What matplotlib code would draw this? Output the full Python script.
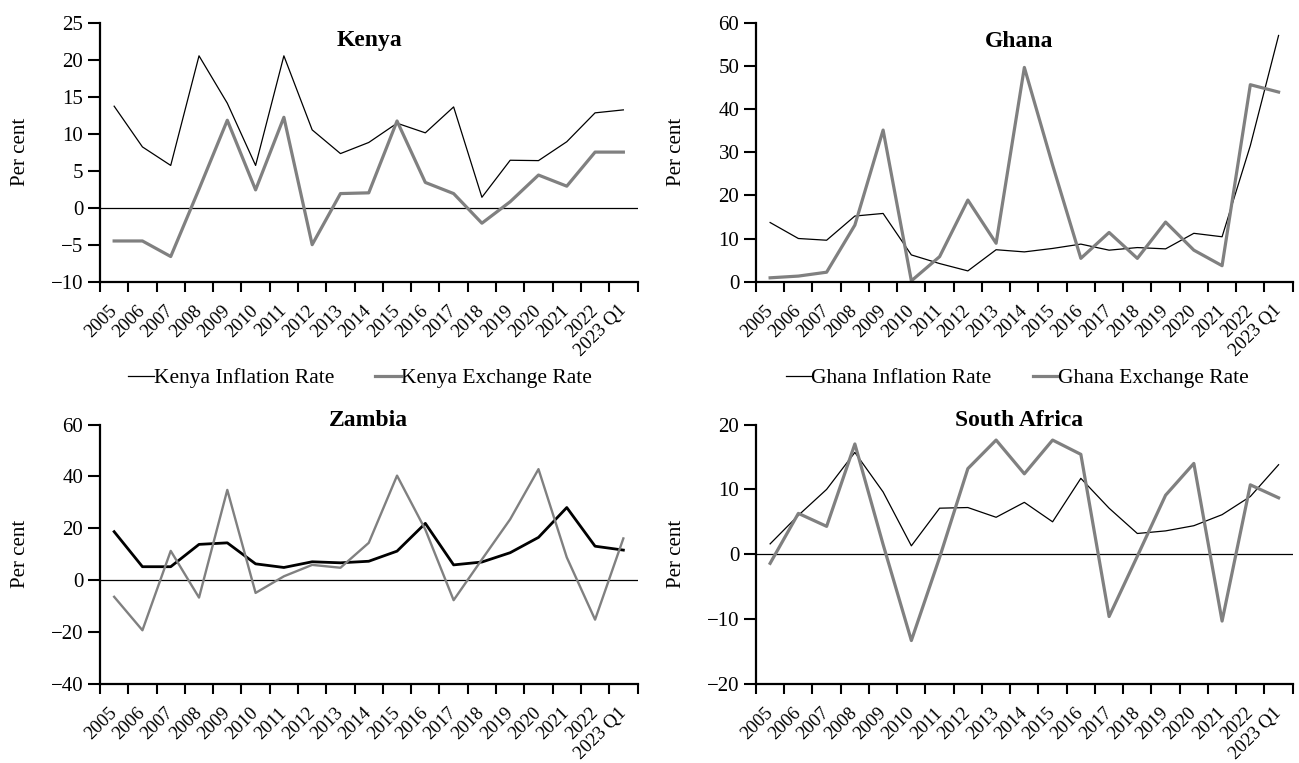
import matplotlib
matplotlib.use('Agg')
import matplotlib.pyplot as plt
import numpy as np

plt.rcParams['font.family'] = ['Liberation Serif', 'DejaVu Serif']

years = ['2005', '2006', '2007', '2008', '2009', '2010', '2011', '2012', '2013',
         '2014', '2015', '2016', '2017', '2018', '2019', '2020', '2021', '2022',
         '2023 Q1']

kenya_infl = [13.7, 8.2, 5.7, 20.5, 14.1, 5.7, 20.5, 10.5, 7.3, 8.8, 11.4, 10.1,
              13.6, 1.4, 6.4, 6.35, 8.9, 12.8, 13.2]
kenya_fx = [-4.5, -4.5, -6.6, 2.5, 11.8, 2.4, 12.2, -5.0, 1.9, 2.0, 11.7, 3.4,
            1.9, -2.1, 0.8, 4.4, 2.9, 7.5, 7.5]

ghana_infl = [13.7, 10.0, 9.6, 15.2, 15.8, 6.2, 4.2, 2.5, 7.4, 6.9, 7.7, 8.7,
              7.3, 7.9, 7.6, 11.2, 10.4, 31.5, 57.0]
ghana_fx = [0.9, 1.3, 2.2, 13.1, 35.1, 0.2, 5.8, 18.9, 8.9, 49.6, 27.0, 5.4,
            11.4, 5.4, 13.8, 7.3, 3.7, 45.6, 43.9]

zambia_infl = [18.7, 5.2, 5.2, 13.8, 14.4, 6.3, 4.9, 7.1, 6.7, 7.3, 11.2, 21.9,
               5.9, 7.0, 10.6, 16.5, 28.0, 13.1, 11.6]
zambia_fx = [-6.4, -19.3, 11.3, -6.7, 34.8, -4.9, 1.5, 5.9, 4.8, 14.4, 40.3, 19.5,
             -7.7, 8.0, 23.5, 42.8, 8.8, -15.2, 16.1]

sa_infl = [1.6, 6.0, 10.0, 15.7, 9.6, 1.3, 7.1, 7.2, 5.7, 8.0, 5.0, 11.7,
           7.1, 3.2, 3.6, 4.4, 6.1, 8.9, 13.8]
sa_fx = [-1.4, 6.3, 4.3, 17.0, 1.5, -13.3, -0.5, 13.2, 17.6, 12.4, 17.6, 15.4,
         -9.6, -0.3, 9.1, 14.0, -10.3, 10.7, 8.7]

W, H = 1299, 763
fig = plt.figure(figsize=(W/100, H/100), dpi=100)

gray = '#808080'


def make_axes(left, right, top, bottom):
    return fig.add_axes([left/W, 1 - bottom/H, (right-left)/W, (bottom-top)/H])


def style(ax, title, ylim, step, title_x, title_y):
    n = len(years)
    x = np.arange(n)
    ax.set_xlim(-0.5, n - 0.5)
    ax.set_ylim(*ylim)
    ax.set_yticks(np.arange(ylim[0], ylim[1] + step/2, step))
    ax.set_xticks(np.arange(-0.5, n, 1.0))
    ax.set_xticklabels([])
    ax.set_xticks(x, minor=True)
    ax.set_xticklabels(years, minor=True, rotation=45, ha='right', va='center',
                       rotation_mode='anchor')
    ax.tick_params(axis='x', which='major', direction='out', length=7, width=1.5)
    ax.tick_params(axis='x', which='minor', length=0, pad=19, labelsize=13.5)
    ax.tick_params(axis='y', direction='out', length=9, width=1.5, labelsize=15, pad=3)
    for s in ['top', 'right']:
        ax.spines[s].set_visible(False)
    for s in ['left', 'bottom']:
        ax.spines[s].set_linewidth(1.6)
    ax.axhline(0, color='black', lw=0.9, zorder=1)
    ax.set_ylabel('Per cent', fontsize=15)
    ax.yaxis.set_label_coords(-0.13, 0.5)
    ax.text(title_x, title_y, title, transform=ax.transAxes, ha='center', va='center',
            fontsize=17, fontweight='bold')
    return x


# Kenya
ax = make_axes(100, 637.5, 22.5, 281.7)
x = style(ax, 'Kenya', (-10, 25), 5, 0.502, 0.93)
ax.plot(x, kenya_infl, color='black', lw=0.9, label='Kenya Inflation Rate')
ax.plot(x, kenya_fx, color=gray, lw=2.3, label='Kenya Exchange Rate')
ax.legend(loc='center', bbox_to_anchor=(0.484, -0.372), ncol=2, frameon=False,
          fontsize=15.5, handlelength=1.2, handletextpad=0.0, columnspacing=1.9)

# Ghana
ax = make_axes(756, 1292.7, 22.5, 281.7)
x = style(ax, 'Ghana', (0, 60), 10, 0.49, 0.925)
ax.plot(x, ghana_infl, color='black', lw=0.9, label='Ghana Inflation Rate')
ax.plot(x, ghana_fx, color=gray, lw=2.3, label='Ghana Exchange Rate')
ax.legend(loc='center', bbox_to_anchor=(0.487, -0.372), ncol=2, frameon=False,
          fontsize=15.5, handlelength=1.2, handletextpad=0.0, columnspacing=1.9)

# Zambia
ax = make_axes(100, 637.5, 424.5, 684)
x = style(ax, 'Zambia', (-40, 60), 20, 0.5, 1.015)
ax.plot(x, zambia_infl, color='black', lw=2.0)
ax.plot(x, zambia_fx, color=gray, lw=1.7)

# South Africa
ax = make_axes(756, 1292.7, 424.5, 684)
x = style(ax, 'South Africa', (-20, 20), 10, 0.49, 1.015)
ax.plot(x, sa_infl, color='black', lw=0.9)
ax.plot(x, sa_fx, color=gray, lw=2.3)

fig.savefig('out.png', dpi=100)
